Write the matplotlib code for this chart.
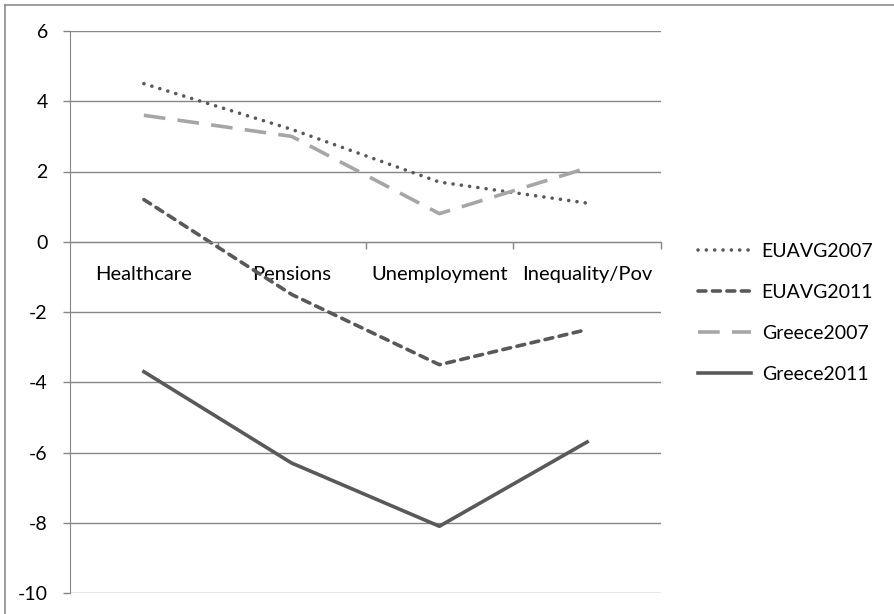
import numpy as np
import matplotlib
matplotlib.use("Agg")
import matplotlib.pyplot as plt
from matplotlib.lines import Line2D
from matplotlib.ticker import FixedLocator, NullFormatter

plt.rcParams['font.family'] = ['Lato', 'DejaVu Sans']

# data
categories = ['Healthcare', 'Pensions', 'Unemployment', 'Inequality/Pov']
euavg2007 = [4.5, 3.2, 1.7, 1.1]
euavg2011 = [1.2, -1.5, -3.5, -2.5]
greece2007 = [3.6, 3.0, 0.8, 2.1]
greece2011 = [-3.7, -6.3, -8.1, -5.7]
y_ticks = [-10, -8, -6, -4, -2, 0, 2, 4, 6]

W, H = 894, 614
fig = plt.figure(figsize=(W / 100, H / 100), dpi=100)
ax = fig.add_axes([70 / W, 1 - 593 / H, (661 - 70) / W, (593 - 31) / H])

x = np.arange(len(categories))
dark = '#595959'
light = '#a6a6a6'
lw = 2.6

ax.plot(x, euavg2007, color=dark, lw=lw, linestyle=(0, (0.01, 2.3)),
        dash_capstyle='round', label='EUAVG2007')
ax.plot(x, euavg2011, color=dark, lw=lw, linestyle=(0, (2.2, 1.8)),
        dash_capstyle='round', label='EUAVG2011')
ax.plot(x, greece2007, color=light, lw=lw, linestyle=(0, (6, 3.4)),
        label='Greece2007')
ax.plot(x, greece2011, color=dark, lw=lw, label='Greece2011')

ax.set_xlim(-0.5, len(categories) - 0.5)
ax.set_ylim(-10, 6)
ax.set_yticks(y_ticks)
ax.set_yticklabels([str(v) for v in y_ticks])
ax.grid(axis='y', color='#868686', lw=1)
ax.set_axisbelow(True)

for s in ['top', 'right']:
    ax.spines[s].set_visible(False)
ax.spines['bottom'].set_position(('data', 0))
ax.spines['bottom'].set_color('#868686')
ax.spines['left'].set_color('#868686')

ax.set_xticks(x)
ax.set_xticklabels(categories)
ax.xaxis.set_minor_locator(FixedLocator(np.arange(len(categories)) + 0.5))
ax.xaxis.set_minor_formatter(NullFormatter())
ax.tick_params(axis='x', which='major', length=0, pad=17.5, labelsize=14.5, labelcolor='black')
ax.tick_params(axis='x', which='minor', length=5, width=1, color='#868686', direction='out')
ax.tick_params(axis='y', length=5, width=1, color='#868686', pad=11, labelsize=14)

ax.legend(loc='center left', bbox_to_anchor=(680 / W, 1 - 313 / H),
          bbox_transform=fig.transFigure, frameon=False, fontsize=14,
          handlelength=2.75, handletextpad=0.55, labelspacing=1.24)

# chart frame: only top and left edges are visible in the reference
fig.add_artist(Line2D([4.5 / W, 4.5 / W], [0, 1 - 4.5 / H], transform=fig.transFigure,
                      color='#8c8c8c', lw=1.2))
fig.add_artist(Line2D([4.5 / W, 1], [1 - 4.5 / H, 1 - 4.5 / H], transform=fig.transFigure,
                      color='#8c8c8c', lw=1.2))

fig.savefig('out.png', dpi=100)
